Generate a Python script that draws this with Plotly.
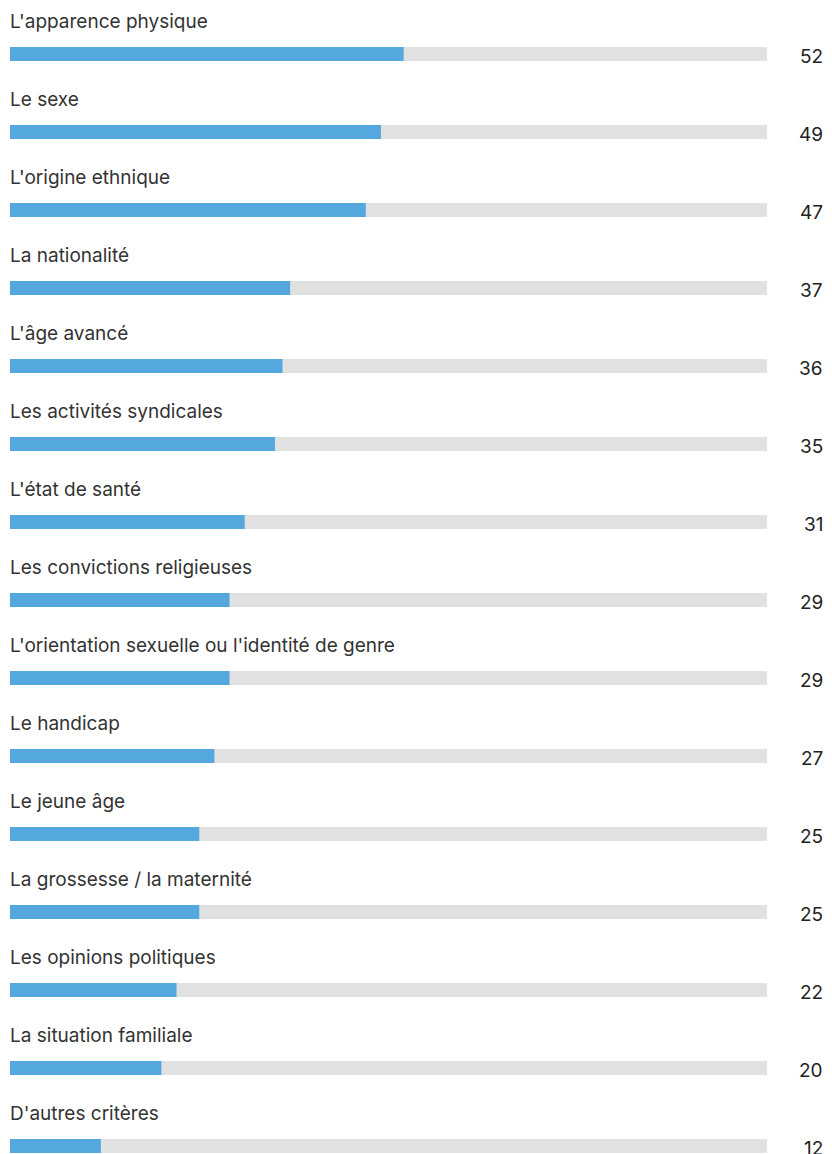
import plotly.graph_objects as go

categories = [
    "L'apparence physique",
    "Le sexe",
    "L'origine ethnique",
    "La nationalité",
    "L'âge avancé",
    "Les activités syndicales",
    "L'état de santé",
    "Les convictions religieuses",
    "L'orientation sexuelle ou l'identité de genre",
    "Le handicap",
    "Le jeune âge",
    "La grossesse / la maternité",
    "Les opinions politiques",
    "La situation familiale",
    "D'autres critères",
]
values = [52, 49, 47, 37, 36, 35, 31, 29, 29, 27, 25, 25, 22, 20, 12]
track_max = 100

n = len(categories)
idx = list(range(n))

W, H = 832, 1154
px_per_unit = (767 - 10) / 100.0
x0 = -10 / px_per_unit
x1 = (W - 10) / px_per_unit
row = 78.0
first = 54.0
y_top = -first / row
y_bot = (H - first) / row
bw = 14.0 / row

fig = go.Figure()
fig.add_trace(go.Bar(
    x=[track_max] * n, y=idx, orientation="h", width=bw,
    marker=dict(color="#E1E1E1", line=dict(width=0)),
    hoverinfo="skip", showlegend=False,
))
fig.add_trace(go.Bar(
    x=values, y=idx, orientation="h", width=bw,
    marker=dict(color="#55A8DE", line=dict(width=0)),
    showlegend=False,
))

font_family = "Inter, Roboto, Arial, sans-serif"
for i, (c, v) in enumerate(zip(categories, values)):
    fig.add_annotation(
        x=0, y=i - 33 / row, xref="x", yref="y", text=c, showarrow=False,
        xanchor="left", yanchor="middle", xshift=-2,
        font=dict(family=font_family, size=19, color="#333333"),
    )
    fig.add_annotation(
        x=(825 - 10) / px_per_unit, y=i + 2 / row, xref="x", yref="y", text=str(v),
        showarrow=False, xanchor="right", yanchor="middle",
        font=dict(family=font_family, size=19, color="#222222"),
    )

fig.update_layout(
    width=W, height=H, barmode="overlay",
    margin=dict(l=0, r=0, t=0, b=0),
    paper_bgcolor="white", plot_bgcolor="white",
    xaxis=dict(range=[x0, x1], visible=False, fixedrange=True),
    yaxis=dict(range=[y_bot, y_top], visible=False, fixedrange=True),
)

fig.write_html(
    "out.html",
    config={"displayModeBar": False},
    post_script="document.body.style.margin='0';document.body.style.overflow='hidden';",
)
